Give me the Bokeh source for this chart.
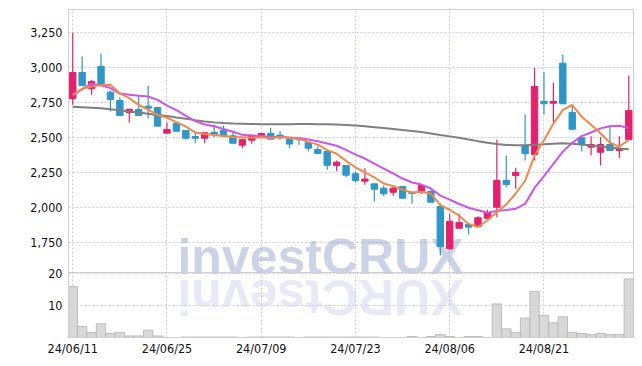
import math
from bokeh.plotting import figure
from bokeh.models import (ColumnDataSource, FixedTicker, Range1d, Span, Label)
from bokeh.embed import file_html
from bokeh.resources import INLINE
from bokeh.core.properties import value

dates = ["24/06/11", "24/06/12", "24/06/13", "24/06/14", "24/06/17", "24/06/18", "24/06/19", "24/06/20",
         "24/06/21", "24/06/24", "24/06/25", "24/06/26", "24/06/27", "24/06/28", "24/07/01", "24/07/02",
         "24/07/03", "24/07/04", "24/07/05", "24/07/08", "24/07/09", "24/07/10", "24/07/11", "24/07/12",
         "24/07/15", "24/07/16", "24/07/17", "24/07/18", "24/07/19", "24/07/22", "24/07/23", "24/07/24",
         "24/07/25", "24/07/26", "24/07/29", "24/07/30", "24/07/31", "24/08/01", "24/08/02", "24/08/05",
         "24/08/06", "24/08/07", "24/08/08", "24/08/09", "24/08/12", "24/08/13", "24/08/14", "24/08/16",
         "24/08/19", "24/08/20", "24/08/21", "24/08/22", "24/08/23", "24/08/26", "24/08/27", "24/08/28",
         "24/08/29", "24/08/30", "24/09/02", "24/09/03"]

opens = [2779, 2966, 2850, 3009, 2826, 2766, 2679, 2702, 2726, 2716,
         2533, 2604, 2552, 2509, 2497, 2538, 2554, 2514, 2447, 2483,
         2509, 2531, 2519, 2488, 2497, 2466, 2416, 2402, 2302, 2302,
         2243, 2190, 2171, 2140, 2111, 2152, 2111, 2116, 2116, 2009,
         1707, 1854, 1881, 1867, 1925, 2004, 2195, 2231, 2443, 2381,
         2759, 2747, 3033, 2681, 2500, 2433, 2397, 2452, 2409, 2488]
highs = [3250, 3081, 2914, 3100, 2838, 2790, 2704, 2795, 2871, 2716,
         2611, 2604, 2552, 2536, 2536, 2595, 2588, 2545, 2488, 2519,
         2531, 2571, 2547, 2488, 2497, 2466, 2440, 2402, 2338, 2302,
         2259, 2283, 2171, 2159, 2159, 2152, 2111, 2159, 2129, 2033,
         1957, 1957, 1881, 1940, 1986, 2486, 2374, 2286, 2666, 3000,
         2969, 2893, 3095, 2731, 2500, 2511, 2504, 2588, 2511, 2945]
lows = [2736, 2874, 2807, 2874, 2688, 2659, 2607, 2659, 2638, 2583,
        2533, 2547, 2486, 2461, 2461, 2504, 2514, 2461, 2426, 2457,
        2509, 2490, 2486, 2426, 2450, 2404, 2388, 2271, 2261, 2219,
        2179, 2164, 2045, 2083, 2086, 2064, 2029, 2100, 2040, 1659,
        1700, 1854, 1809, 1867, 1925, 1933, 2147, 2136, 2338, 2338,
        2666, 2611, 2743, 2561, 2402, 2374, 2302, 2409, 2357, 2488]
closes = [2966, 2874, 2902, 2874, 2774, 2659, 2704, 2659, 2711, 2583,
          2559, 2547, 2497, 2497, 2536, 2521, 2514, 2461, 2488, 2519,
          2531, 2490, 2500, 2455, 2486, 2426, 2388, 2304, 2326, 2233,
          2195, 2205, 2133, 2100, 2140, 2069, 2102, 2159, 2040, 1724,
          1904, 1895, 1862, 1929, 1967, 2195, 2166, 2252, 2386, 2866,
          2743, 2759, 2743, 2561, 2450, 2452, 2452, 2409, 2421, 2695]

ma5 = [2807, 2850, 2866, 2876, 2878, 2817, 2783, 2734, 2701, 2663,
       2643, 2612, 2579, 2537, 2527, 2520, 2513, 2506, 2504, 2501,
       2503, 2498, 2506, 2499, 2492, 2471, 2451, 2412, 2386, 2335,
       2289, 2253, 2218, 2173, 2155, 2129, 2109, 2114, 2102, 2019,
       1986, 1944, 1885, 1863, 1911, 1970, 2024, 2102, 2193, 2373,
       2483, 2601, 2699, 2734, 2651, 2593, 2532, 2465, 2437, 2486]
ma10 = [2802, 2847, 2886, 2874, 2855, 2816, 2807, 2800, 2795, 2771,
        2730, 2698, 2657, 2619, 2595, 2582, 2563, 2543, 2521, 2514,
        2512, 2506, 2506, 2502, 2497, 2487, 2475, 2459, 2443, 2414,
        2380, 2352, 2315, 2280, 2245, 2209, 2181, 2166, 2138, 2087,
        2058, 2027, 2000, 1983, 1965, 1978, 1984, 1994, 2028, 2142,
        2227, 2313, 2401, 2464, 2512, 2538, 2567, 2582, 2586, 2569]
ma_long = [2722, 2718, 2714, 2710, 2704, 2697, 2688, 2680, 2672, 2663,
           2655, 2645, 2636, 2626, 2617, 2610, 2605, 2602, 2600, 2598,
           2597, 2596, 2596, 2597, 2598, 2598, 2597, 2596, 2594, 2592,
           2588, 2583, 2576, 2569, 2562, 2555, 2548, 2541, 2531, 2520,
           2510, 2500, 2488, 2476, 2465, 2455, 2449, 2446, 2447, 2450,
           2453, 2458, 2461, 2458, 2452, 2445, 2438, 2430, 2423, 2418]

volume = [15.9, 3.4, 1.6, 4.3, 1.25, 1.6, 0.5, 0.5, 2.3, 0.5,
          0.0, 0.0, 0.15, 0.15, 0.15, 0.15, 0.15, 0.15, 0.0, 0.15,
          0.15, 0.15, 0.15, 0.15, 0.0, 0.15, 0.15, 0.15, 0.15, 0.15,
          0.15, 0.15, 0.15, 0.0, 0.0, 0.0, 0.3, 0.0, 0.3, 0.9,
          0.3, 0.0, 0.3, 0.3, 0.0, 10.5, 2.7, 1.6, 6.1, 14.4,
          6.9, 4.6, 6.5, 1.6, 1.25, 0.9, 1.25, 0.9, 0.9, 18.3]

tick_idx = [0, 10, 20, 30, 40, 50]
price_ticks = [1750, 2000, 2250, 2500, 2750, 3000, 3250]
volume_ticks = [10, 20]

UP = "#e3216d"
DOWN = "#2f96c8"
GRID = "#c9cde0"
FRAME_COLOR = "#cfcfcf"
LABEL_FONT = "'DejaVu Sans Condensed', 'Liberation Sans Narrow', Roboto, sans-serif"
LABEL_COLOR = "#111111"

# ---- layout geometry (pixels) ----
FRAME_L, FRAME_W = 68, 565
FRAME_T, FRAME_H = 9, 328
PRICE_H = 263            # price panel height inside the frame; volume panel is below
VOL_H = FRAME_H - PRICE_H

X0, X1 = -0.45, 59.5
P_TOP, P_BOT = 3416, 1538          # price range of the upper panel
VOL_MAX = 20.3                     # volume range of the lower panel (millions)
Y1 = P_TOP
Y0 = P_TOP - FRAME_H * (P_TOP - P_BOT) / PRICE_H
VOL_TOP = VOL_MAX * FRAME_H / VOL_H
TEXT_SHIFT = 15     # renderer's vertical text offset compensation (px)


def px_to_x(px):
    return X0 + (px - FRAME_L) / FRAME_W * (X1 - X0)


def py_to_price(py):
    return Y1 - (py - FRAME_T) / FRAME_H * (Y1 - Y0)


n = len(dates)
xs = list(range(n))
colors = [UP if c >= o else DOWN for o, c in zip(opens, closes)]
src = ColumnDataSource(dict(
    x=xs, open=opens, high=highs, low=lows, close=closes,
    top=[max(o, c) for o, c in zip(opens, closes)],
    bottom=[min(o, c) for o, c in zip(opens, closes)],
    color=colors, ma5=ma5, ma10=ma10, ma_long=ma_long, vol=volume))

p = figure(width=FRAME_L + FRAME_W + 1, height=FRAME_T + FRAME_H + 25,
           x_range=Range1d(X0, X1), y_range=Range1d(Y0, Y1),
           output_backend="svg", toolbar_location=None,
           min_border_left=FRAME_L, min_border_right=1, min_border_top=FRAME_T,
           min_border_bottom=25)
p.extra_y_ranges = {"vol": Range1d(0, VOL_TOP)}

p.outline_line_color = FRAME_COLOR
p.background_fill_color = "white"
p.border_fill_color = "white"

# grids
p.xgrid.ticker = FixedTicker(ticks=tick_idx)
p.ygrid.ticker = FixedTicker(ticks=price_ticks)
for g in (p.xgrid, p.ygrid):
    g.grid_line_color = GRID
    g.grid_line_dash = "2 2"
    g.grid_line_width = 1
for v in volume_ticks:
    p.add_layout(Span(location=v, dimension="width", y_range_name="vol",
                      line_color=GRID, line_dash="2 2", line_width=1))
p.add_layout(Span(location=P_BOT, dimension="width", line_color=FRAME_COLOR, line_width=1))

# y axis: price ticks in the upper panel, volume ticks in the lower panel
vol_tick_pos = [round(Y0 + v / VOL_TOP * (Y1 - Y0), 4) for v in volume_ticks]
overrides = {t: f"{t:,}" for t in price_ticks}
overrides.update({pos: str(v) for pos, v in zip(vol_tick_pos, volume_ticks)})
p.yaxis.ticker = FixedTicker(ticks=price_ticks + vol_tick_pos)
p.yaxis.major_label_overrides = overrides
p.yaxis.major_label_standoff = 6

p.xaxis.ticker = FixedTicker(ticks=tick_idx)
p.xaxis.major_label_overrides = {i: dates[i] for i in tick_idx}
p.xaxis.major_label_standoff = 3

for ax in (p.xaxis[0], p.yaxis[0]):
    ax.axis_line_color = FRAME_COLOR
    ax.major_tick_line_color = None
    ax.minor_tick_line_color = None
    ax.major_tick_out = 0
    ax.major_tick_in = 0
    ax.minor_tick_out = 0
    ax.major_label_text_font = LABEL_FONT
    ax.major_label_text_font_size = "12.5px"
    ax.major_label_text_color = LABEL_COLOR

# volume unit label
p.add_layout(Label(x=px_to_x(36), y=(337 - 300) / 3.2, y_range_name="vol",
                   text="10\u2076", angle=math.pi / 2, text_align="center",
                   text_baseline="middle", text_font="DejaVu Serif",
                   text_font_size="12px", text_color="#444444"))

# watermark (drawn first, under the marks)
WM = "investCRUX"
WM_SIZE = 50
WM_COLOR = "#8596c6"
adv = {"i": .278, "n": .611, "v": .556, "e": .556, "s": .556, "t": .333,
       "C": .722, "R": .722, "U": .722, "X": .667}
total = sum(adv[ch] for ch in WM) * WM_SIZE
start_px = 320 - total / 2
p.text(x=[px_to_x(320)], y=[py_to_price(271 - TEXT_SHIFT)], text=[WM],
       text_font=value("Liberation Sans"),
       text_font_style="bold", text_font_size=f"{WM_SIZE}px", text_align="center",
       text_baseline="alphabetic", text_color=WM_COLOR, text_alpha=0.42)
lx, cur = [], start_px
for ch in WM:
    w = adv[ch] * WM_SIZE
    lx.append(px_to_x(cur + w / 2))
    cur += w
cap_mid = 0.716 * WM_SIZE / 2
p.text(x=lx, y=[py_to_price(275 + cap_mid + 4)] * len(WM), text=list(WM), angle=math.pi,
       text_font=value("Liberation Sans"), text_font_style="bold",
       text_font_size=f"{WM_SIZE}px", text_align="center", text_baseline="middle",
       text_color=WM_COLOR, text_alpha=0.2)

# volume bars
p.vbar(x="x", width=1.0, top="vol", bottom=0, fill_color="#d8d8d8", line_color="#b4b4b4",
       line_width=0.8, y_range_name="vol", source=src)

# candles
p.segment(x0="x", y0="high", x1="x", y1="low", color="color", line_width=1.2, source=src)
p.vbar(x="x", width=0.68, top="top", bottom="bottom", fill_color="color", line_color="color", source=src)

# moving averages
p.line(x="x", y="ma_long", color="#7f7f7f", line_width=2, source=src)
p.line(x="x", y="ma10", color="#cc55e8", line_width=2, source=src)
p.line(x="x", y="ma5", color="#f08848", line_width=2, source=src)

open("out.html", "w").write(file_html(p, INLINE))
